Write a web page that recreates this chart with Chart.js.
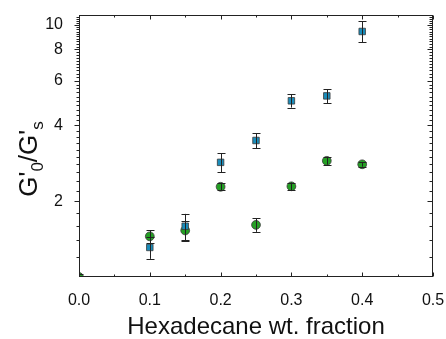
<!DOCTYPE html>
<html>
<head>
<meta charset="utf-8">
<script src="https://cdn.jsdelivr.net/npm/chart.js@4/dist/chart.umd.min.js"></script>
<style>
  html, body { margin: 0; padding: 0; background: #fff; }
  #wrap { width: 446px; height: 339px; position: relative; }
</style>
</head>
<body>
<div id="wrap"><canvas id="c"></canvas></div>
<script>
// series: blue squares
const blueX = [0.1, 0.15, 0.2, 0.25, 0.3, 0.35, 0.4];
const blueY = [1.31, 1.59, 2.85, 3.48, 5.0, 5.23, 9.42];
const blueErr = [0.13, 0.19, 0.25, 0.24, 0.3, 0.33, 0.9];

// series: green circles
const greenX = [0, 0.1, 0.15, 0.2, 0.25, 0.3, 0.35, 0.4];
const greenY = [1.0, 1.45, 1.53, 2.28, 1.61, 2.29, 2.89, 2.80];
const greenErr = [0.03, 0.08, 0.14, 0.07, 0.1, 0.08, 0.1, 0.06];

// axes
const xMajor = [0, 0.1, 0.2, 0.3, 0.4, 0.5];
const xMinor = [0.05, 0.15, 0.25, 0.35, 0.45];
const yMajor = [2, 4, 6, 8, 10];
const yMinor = [1.2, 1.4, 1.6, 1.8, 2.2, 2.4, 2.6, 2.8, 3, 3.2, 3.4, 3.6, 3.8,
  4.2, 4.4, 4.6, 4.8, 5, 5.2, 5.4, 5.6, 5.8, 6.2, 6.4, 6.6, 6.8, 7, 7.2, 7.4,
  7.6, 7.8, 8.2, 8.4, 8.6, 8.8, 9, 9.2, 9.4, 9.6, 9.8, 10.2, 10.4, 10.6, 10.8];

const AXIS = '#222';
const FONT = "'Liberation Sans', Arial, sans-serif";

const pts = (xs, ys) => xs.map((x, i) => ({ x: x, y: ys[i] }));

// error bars from arrays, through the scales
const errorBars = {
  id: 'errorBars',
  afterDatasetsDraw(chart) {
    const { ctx, chartArea: a, scales: { x, y } } = chart;
    ctx.save();
    ctx.beginPath();
    ctx.rect(a.left, a.top, a.right - a.left, a.bottom - a.top);
    ctx.clip();
    ctx.strokeStyle = '#222';
    ctx.lineWidth = 1;
    chart.data.datasets.forEach(ds => {
      ds.data.forEach((p, i) => {
        const e = ds.err[i];
        const px = Math.round(x.getPixelForValue(p.x)) + 0.5;
        const top = y.getPixelForValue(p.y + e);
        const bot = y.getPixelForValue(p.y - e);
        ctx.beginPath();
        ctx.moveTo(px, top); ctx.lineTo(px, bot);
        ctx.moveTo(px - 4, Math.round(top) + 0.5); ctx.lineTo(px + 4, Math.round(top) + 0.5);
        ctx.moveTo(px - 4, Math.round(bot) + 0.5); ctx.lineTo(px + 4, Math.round(bot) + 0.5);
        ctx.stroke();
      });
    });
    ctx.restore();
  }
};

// frame, tick marks and the y title with subscripts
const frame = {
  id: 'frame',
  afterDraw(chart) {
    const { ctx, chartArea: a, scales: { x, y } } = chart;
    const L = Math.round(a.left) + 0.5, R = Math.round(a.right) - 0.5;
    const T = Math.round(a.top) + 0.5, B = Math.round(a.bottom) - 0.5;
    ctx.save();
    ctx.strokeStyle = AXIS;
    ctx.lineWidth = 1;
    ctx.strokeRect(L, T, R - L, B - T);
    ctx.beginPath();
    const xt = (v, len) => {
      const px = Math.round(x.getPixelForValue(v)) + 0.5;
      ctx.moveTo(px, B); ctx.lineTo(px, B - len);
      ctx.moveTo(px, T); ctx.lineTo(px, T + len);
    };
    const yt = (v, len) => {
      const py = Math.round(y.getPixelForValue(v)) + 0.5;
      ctx.moveTo(L, py); ctx.lineTo(L - len, py);
      ctx.moveTo(R, py); ctx.lineTo(R - len, py);
    };
    xMajor.forEach(v => xt(v, 4));
    xMinor.forEach(v => xt(v, 2));
    yMajor.forEach(v => yt(v, 5));
    yMinor.forEach(v => yt(v, 3));
    ctx.stroke();

    // y title: G'0/G's
    ctx.translate(37, 159);
    ctx.rotate(-Math.PI / 2);
    ctx.fillStyle = '#111';
    ctx.textBaseline = 'alphabetic';
    const big = '26px ' + FONT, small = '17px ' + FONT;
    const parts = [["G'", big, 0], ['0', small, 6], ["/G'", big, 0], ['s', small, 6]];
    let w = 0;
    parts.forEach(p => { ctx.font = p[1]; w += ctx.measureText(p[0]).width; });
    let cx = -w / 2;
    parts.forEach(p => {
      ctx.font = p[1];
      ctx.fillText(p[0], cx, p[2]);
      cx += ctx.measureText(p[0]).width;
    });
    ctx.restore();
  }
};

new Chart(document.getElementById('c'), {
  type: 'scatter',
  data: {
    datasets: [
      {
        label: 'squares',
        data: pts(blueX, blueY),
        err: blueErr,
        pointStyle: 'rect',
        pointRadius: 4.6,
        backgroundColor: '#1a8dbb',
        borderColor: '#3a3a3a',
        borderWidth: 0.8,
        clip: 0
      },
      {
        label: 'circles',
        data: pts(greenX, greenY),
        err: greenErr,
        pointStyle: 'circle',
        pointRadius: 4.4,
        backgroundColor: '#24a024',
        borderColor: '#3a3a3a',
        borderWidth: 0.8,
        clip: 0
      }
    ]
  },
  options: {
    responsive: true,
    maintainAspectRatio: false,
    animation: false,
    layout: { padding: { top: 15, right: 13, left: 0, bottom: 0 } },
    plugins: { legend: { display: false }, tooltip: { enabled: false } },
    scales: {
      x: {
        type: 'linear',
        min: 0,
        max: 0.5,
        grid: { display: false },
        border: { display: false },
        afterBuildTicks: s => { s.ticks = xMajor.map(v => ({ value: v })); },
        afterFit: s => { s.height = 62; s.paddingLeft = 0; s.paddingRight = 0; },
        ticks: {
          color: '#111',
          font: { family: FONT, size: 16 },
          padding: 6,
          maxRotation: 0,
          autoSkip: false,
          callback: v => Number(v).toFixed(1)
        },
        title: {
          display: true,
          text: 'Hexadecane wt. fraction',
          color: '#111',
          font: { family: FONT, size: 24 },
          padding: { top: 4, bottom: -3 }
        }
      },
      y: {
        type: 'logarithmic',
        min: 1,
        max: 10.95,
        grid: { display: false },
        border: { display: false },
        afterBuildTicks: s => { s.ticks = yMajor.map(v => ({ value: v })); },
        afterFit: s => { s.width = 79; s.paddingTop = 0; s.paddingBottom = 0; },
        ticks: {
          color: '#111',
          font: { family: FONT, size: 16 },
          padding: 8,
          autoSkip: false,
          callback: v => String(v)
        }
      }
    }
  },
  plugins: [errorBars, frame]
});
</script>
</body>
</html>
